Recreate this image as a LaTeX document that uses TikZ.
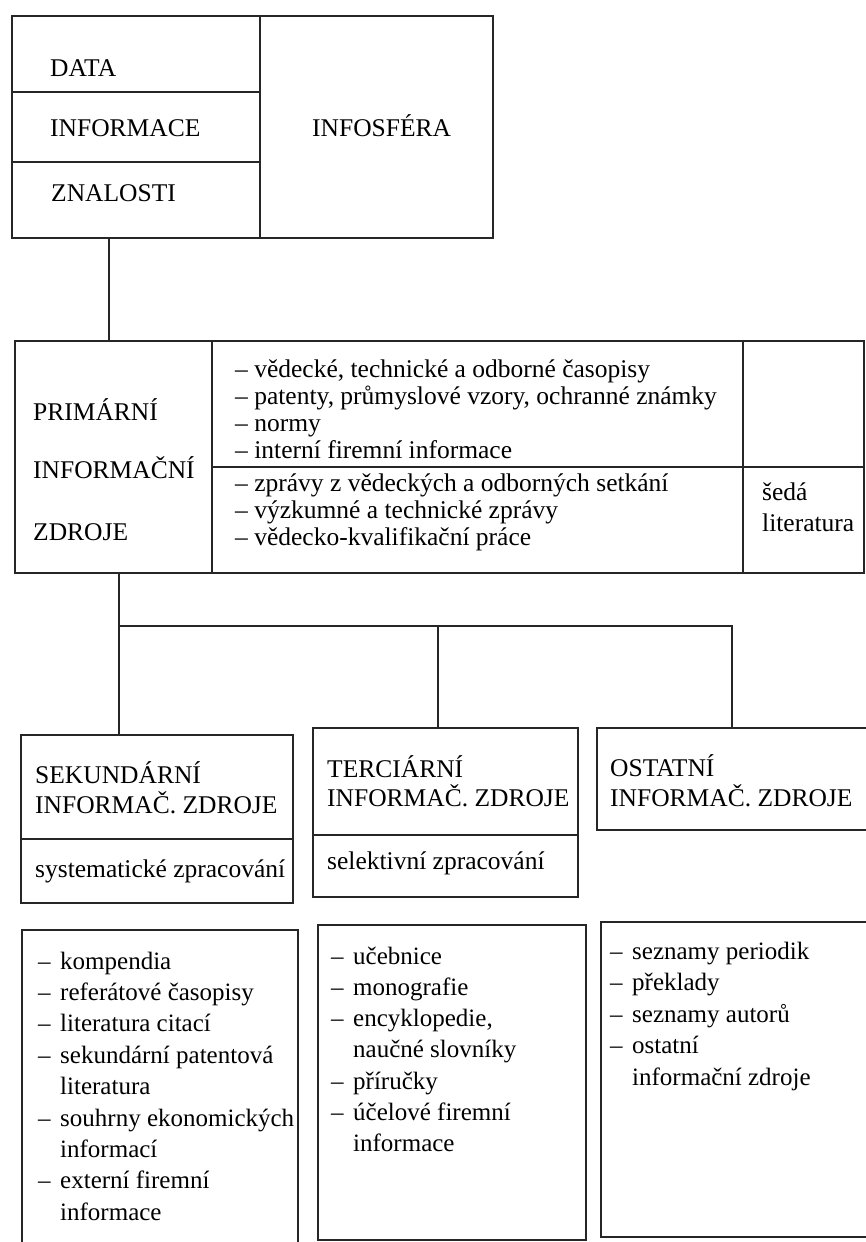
\documentclass[tikz,border=0pt]{standalone}
\usepackage{fontspec}
\setmainfont{Liberation Serif}
\tikzset{
  box/.style={draw=black!85, line width=1.3pt, inner sep=0pt, outer sep=0pt, anchor=north west},
  txt/.style={inner sep=0pt, anchor=base west, font=\fontsize{25.5}{30}\selectfont},
  ltxt/.style={inner sep=0pt, anchor=base west, font=\fontsize{25}{30}\selectfont},
  wire/.style={draw=black!85, line width=1.3pt},
}
\newcommand{\dd}{\makebox[22pt][l]{–}}
\newcommand{\ind}{\hspace*{22pt}}
\begin{document}
\begin{tikzpicture}[x=1pt,y=-1pt]
\path[use as bounding box] (0,0) rectangle (866,1242);
\clip (0,0) rectangle (866,1242);

% ---- top box
\node[box, minimum width=248pt, minimum height=76pt] (data) at (12,16) {};
\node[box, minimum width=248pt, minimum height=70pt] (info) at (12,92) {};
\node[box, minimum width=248pt, minimum height=76pt] (zna) at (12,162) {};
\node[box, minimum width=233pt, minimum height=222pt] (infos) at (260,16) {};
\node[txt] (tdata) at (50,76) {DATA};
\node[txt] (tinfo) at (50,136) {INFORMACE};
\node[txt] (tzna) at (51,201) {ZNALOSTI};
\node[txt] (tinfos) at (312,136) {INFOSFÉRA};

% ---- primary sources
\node[box, minimum width=197pt, minimum height=232pt] (prim) at (15,341) {};
\node[box, minimum width=531pt, minimum height=126pt] (p1) at (212,341) {};
\node[box, minimum width=531pt, minimum height=106pt] (p2) at (212,467) {};
\node[box, minimum width=121pt, minimum height=126pt] (r1) at (743,341) {};
\node[box, minimum width=121pt, minimum height=106pt] (r2) at (743,467) {};
\node[txt] (tp1) at (33,420) {PRIMÁRNÍ};
\node[txt] (tp2) at (33,478) {INFORMAČNÍ};
\node[txt] (tp3) at (33,540) {ZDROJE};
\node[txt] (pa1) at (235,377) {– vědecké, technické a odborné časopisy};
\node[txt] (pa2) at (235,404) {– patenty, průmyslové vzory, ochranné známky};
\node[txt] (pa3) at (235,431) {– normy};
\node[txt] (pa4) at (235,458) {– interní firemní informace};
\node[txt] (pb1) at (235,491) {– zprávy z vědeckých a odborných setkání};
\node[txt] (pb2) at (235,518) {– výzkumné a technické zprávy};
\node[txt] (pb3) at (235,545) {– vědecko-kvalifikační práce};
\node[txt] (sl1) at (762,500) {šedá};
\node[txt] (sl2) at (762,531) {literatura};

% ---- header boxes
\node[box, minimum width=272pt, minimum height=104pt] (sek) at (21,735) {};
\node[box, minimum width=272pt, minimum height=64pt] (sek2) at (21,839) {};
\node[box, minimum width=265pt, minimum height=107pt] (terc) at (313,728) {};
\node[box, minimum width=265pt, minimum height=62pt] (terc2) at (313,835) {};
\node[box, minimum width=275pt, minimum height=102pt] (ost) at (597,728) {};
\node[txt] (ts1) at (35,783) {SEKUNDÁRNÍ};
\node[txt] (ts2) at (35,813) {INFORMAČ. ZDROJE};
\node[txt] (ts3) at (35,877) {systematické zpracování};
\node[txt] (tt1) at (327,777) {TERCIÁRNÍ};
\node[txt] (tt2) at (327,806) {INFORMAČ. ZDROJE};
\node[txt] (tt3) at (327,869) {selektivní zpracování};
\node[txt] (to1) at (610,776) {OSTATNÍ};
\node[txt] (to2) at (610,806) {INFORMAČ. ZDROJE};

% ---- list boxes
\node[box, minimum width=276pt, minimum height=330pt] (sl) at (22,930) {};
\node[box, minimum width=268pt, minimum height=315pt] (tl) at (318,925) {};
\node[box, minimum width=275pt, minimum height=315pt] (ol) at (601,922) {};
\foreach \t [count=\i from 0] in {{\dd kompendia},{\dd referátové časopisy},{\dd literatura citací},{\dd sekundární patentová},{\ind literatura},{\dd souhrny ekonomických},{\ind informací},{\dd externí firemní},{\ind informace}}
  \node[ltxt] (sli\i) at (38,{969+31.4*\i}) {\t};
\foreach \t [count=\i from 0] in {{\dd učebnice},{\dd monografie},{\dd encyklopedie,},{\ind naučné slovníky},{\dd příručky},{\dd účelové firemní},{\ind informace}}
  \node[ltxt] (tli\i) at (331,{964+31.3*\i}) {\t};
\foreach \t [count=\i from 0] in {{\dd seznamy periodik},{\dd překlady},{\dd seznamy autorů},{\dd ostatní},{\ind informační zdroje}}
  \node[ltxt] (oli\i) at (610,{959+31.5*\i}) {\t};

% ---- connectors
\coordinate (j1) at (109,0);
\coordinate (j2) at (119,0);
\coordinate (j3) at (438,0);
\coordinate (j4) at (732,0);
\coordinate (bar) at (0,626);
\draw[wire] (j1 |- zna.south) -- (j1 |- prim.north);
\draw[wire] (j2 |- prim.south) -- (j2 |- sek.north);
\draw[wire] (j2 |- bar) -- (j4 |- bar) -- (j4 |- ost.north);
\draw[wire] (j3 |- bar) -- (j3 |- terc.north);
\end{tikzpicture}
\end{document}
